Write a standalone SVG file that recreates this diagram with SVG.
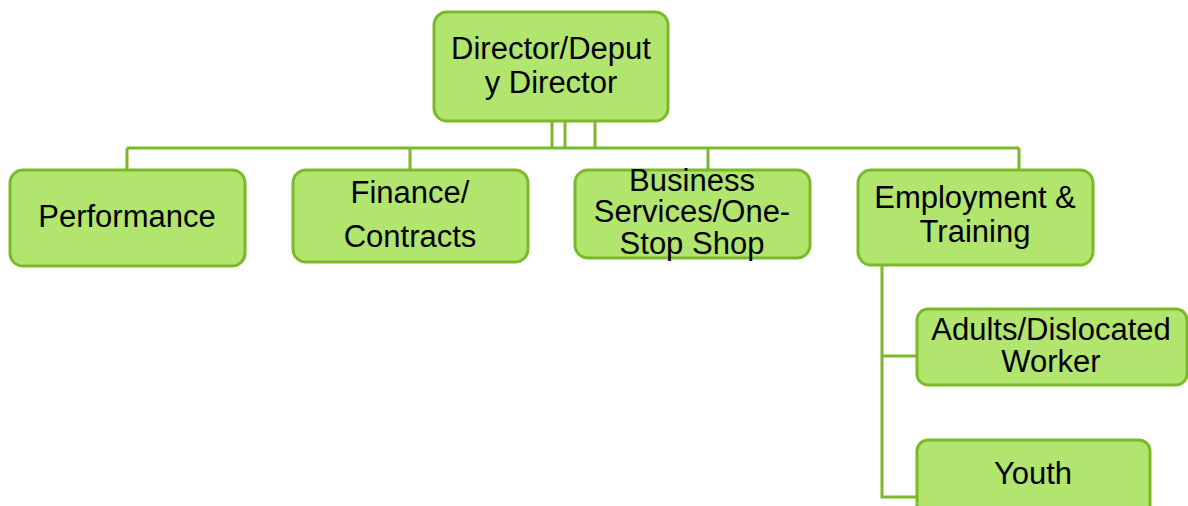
<svg xmlns="http://www.w3.org/2000/svg" width="1188" height="506" viewBox="0 0 1188 506">
<style>
.box{fill:#b2e56e;stroke:#7aba2a;stroke-width:3}
.conn{fill:none;stroke:#7aba2a;stroke-width:3}
text{font-family:"Liberation Sans",Arial,sans-serif;font-size:31px;fill:#000;text-anchor:middle}
</style>
<rect width="1188" height="506" fill="#fff"/>
<g id="connectors">
<path class="conn" d="M552,121V148M565,121V148M595,121V148M127,148H1019M127,148V169M410,148V169M708,148V169M1019,148V169"/>
<path class="conn" d="M882,265V497H916M882,356H916"/>
</g>
<g id="director">
<rect class="box" x="434" y="12" width="234" height="109" rx="13"/>
<text x="551" y="59">Director/Deput</text>
<text x="551" y="93">y Director</text>
</g>
<g id="performance">
<rect class="box" x="10" y="170" width="235" height="96" rx="13"/>
<text x="127" y="227">Performance</text>
</g>
<g id="finance">
<rect class="box" x="293" y="170" width="235" height="92" rx="13"/>
<text x="410" y="203">Finance/</text>
<text x="410" y="247">Contracts</text>
</g>
<g id="business">
<rect class="box" x="575" y="170" width="235" height="88" rx="13"/>
<text x="692" y="191">Business</text>
<text x="692" y="222">Services/One-</text>
<text x="692" y="254">Stop Shop</text>
</g>
<g id="employment">
<rect class="box" x="858" y="170" width="235" height="95" rx="13"/>
<text x="975" y="208">Employment &amp;</text>
<text x="975" y="242">Training</text>
</g>
<g id="adults">
<rect class="box" x="917" y="309" width="270" height="76" rx="11"/>
<text x="1051" y="340">Adults/Dislocated</text>
<text x="1051" y="372">Worker</text>
</g>
<g id="youth">
<rect class="box" x="917" y="440" width="233" height="76" rx="11"/>
<text x="1033" y="484">Youth</text>
</g>
</svg>
